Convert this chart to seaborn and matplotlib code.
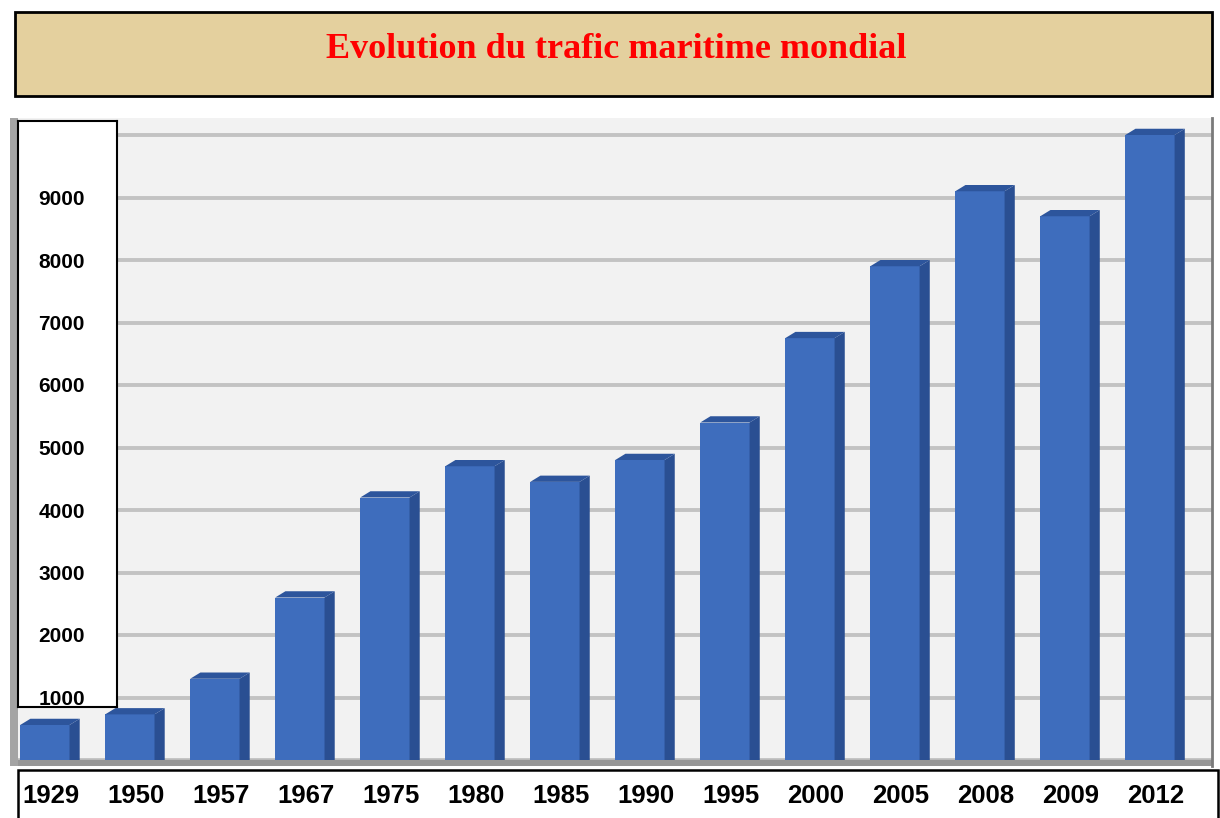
# -*- coding: utf-8 -*-
'''
Evolution du trafic maritime mondial (bar chart, pseudo 3D)
'''

import numpy as np
import pandas as pd
import seaborn as sns
import matplotlib.pyplot as plt
from matplotlib.patches import Rectangle, Polygon
from matplotlib.transforms import blended_transform_factory, ScaledTranslation

years = ['1929', '1950', '1957', '1967', '1975', '1980', '1985',
         '1990', '1995', '2000', '2005', '2008', '2009', '2012']
trafic = [560, 730, 1300, 2600, 4200, 4700, 4450,
          4800, 5400, 6750, 7900, 9100, 8700, 10000]
grid_values = np.arange(0, 10001, 1000)
label_values = np.arange(1000, 10000, 1000)

title = 'Evolution du trafic maritime mondial'

front = '#3e6dbd'
side = '#2a4f92'
top = '#2d559c'

sns.set_theme(style='whitegrid')
plt.rcParams['font.family'] = ['Liberation Sans', 'DejaVu Sans']

W, H = 1220, 818
fig = plt.figure(figsize=(W / 100, H / 100), dpi=100)
fig.patch.set_facecolor('white')

# title box
fig.patches.append(Rectangle((15 / W, (H - 96) / H), 1197 / W, 84 / H,
                             transform=fig.transFigure, facecolor='#e4d09e',
                             edgecolor='black', lw=2, zorder=-1))
fig.text(616 / W, (H - 50) / H, title, color='red', fontsize=26,
         fontweight='bold', family=['Liberation Serif', 'DejaVu Serif'],
         ha='center', va='center')

# white box under the plot for the years
fig.patches.append(Rectangle((18 / W, -0.01), 1200 / W, (H - 770) / H + 0.01,
                             transform=fig.transFigure, facecolor='white',
                             edgecolor='black', lw=1.8, zorder=-1))

ax = fig.add_axes([10 / W, (H - 766) / H, 1202 / W, 648 / H])
ax.set_facecolor('#f2f2f2')

df = pd.DataFrame({'annee': years, 'trafic': trafic})
sns.barplot(data=df, x='annee', y='trafic', color=front, saturation=1,
            width=0.58, ax=ax, zorder=3, linewidth=0)

# fake depth: side face and top face on every bar
s = 0.12
dh = 100
for p in ax.patches[:len(years)]:
    x0 = p.get_x()
    w = p.get_width()
    h = p.get_height()
    ax.add_patch(Polygon([(x0 + w, 0), (x0 + w + s, 0), (x0 + w + s, h + dh),
                          (x0 + w, h)], closed=True, facecolor=side,
                         edgecolor='none', zorder=3))
    ax.add_patch(Polygon([(x0, h), (x0 + s, h + dh), (x0 + w + s, h + dh),
                          (x0 + w, h)], closed=True, facecolor=top,
                         edgecolor='none', zorder=3))

ax.set_xlim(-0.41, 13.73)
ax.set_ylim(-96, 10272)
ax.set_yticks(grid_values)
ax.tick_params(axis='y', labelleft=False, length=0)
ax.grid(axis='y', color='#c3c3c3', lw=2.8)
ax.grid(axis='x', visible=False)
ax.set_xticks(range(len(years)), labels=years, fontweight='bold', fontsize=18.5)
ax.tick_params(axis='x', length=0, pad=13, colors='black')
shift = ScaledTranslation(6 / 100, 0, fig.dpi_scale_trans)
for lbl in ax.get_xticklabels():
    lbl.set_transform(lbl.get_transform() + shift)
ax.set_xlabel('')
ax.set_ylabel('')

# floor and left wall
ax.axhspan(-96, 0, color='#979797', zorder=1)
ax.add_patch(Rectangle((0, 0), 8 / 1202, 1, transform=ax.transAxes,
                       facecolor='#a4a4a4', edgecolor='none', zorder=1))
for side_name in ['top', 'left', 'bottom']:
    ax.spines[side_name].set_visible(False)
ax.spines['right'].set_color('#7a7a7a')
ax.spines['right'].set_linewidth(2)

# white box holding the value labels
trans = blended_transform_factory(ax.transAxes, ax.transData)
ins = ax.inset_axes([8 / 1202, 848, 99 / 1202, 10224 - 848], transform=trans)
ins.set_facecolor('white')
ins.set_xlim(0, 1)
ins.set_ylim(848, 10224)
ins.set_xticks([])
ins.set_yticks(label_values, labels=[str(v) for v in label_values],
               ha='left', fontweight='bold', fontsize=15)
ins.tick_params(axis='y', length=0, pad=-14.5, colors='black')
ins.grid(False)
for sp in ins.spines.values():
    sp.set_visible(True)
    sp.set_color('black')
    sp.set_linewidth(1.5)

fig.savefig('out.png', dpi=100)
